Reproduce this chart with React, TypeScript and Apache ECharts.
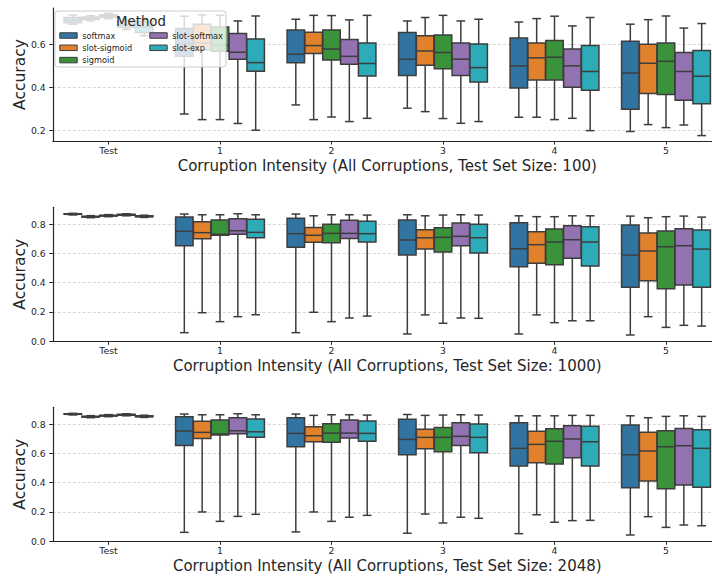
import { useEffect, useRef } from 'react';
import * as echarts from 'echarts';

const categories = ['Test', '1', '2', '3', '4', '5'];
const methods = ['softmax', 'slot-sigmoid', 'sigmoid', 'slot-softmax', 'slot-exp'];
const testSizes = ['100', '1000', '2048'];
const ticksTop = [0.2, 0.4, 0.6];
const ticksLower = [0, 0.2, 0.4, 0.6, 0.8];

// each box: [min, q1, median, q3, max] for Test, 1, 2, 3, 4, 5
const size100Softmax = [[0.693, 0.700, 0.712, 0.724, 0.735], [0.277, 0.544, 0.603, 0.673, 0.730], [0.319, 0.515, 0.554, 0.666, 0.716], [0.304, 0.455, 0.531, 0.654, 0.708], [0.262, 0.398, 0.500, 0.629, 0.703], [0.196, 0.299, 0.467, 0.614, 0.693]];
const size100SlotSigmoid = [[0.708, 0.715, 0.720, 0.726, 0.732], [0.251, 0.575, 0.606, 0.693, 0.736], [0.251, 0.557, 0.594, 0.656, 0.734], [0.288, 0.503, 0.569, 0.640, 0.724], [0.262, 0.435, 0.537, 0.606, 0.719], [0.228, 0.372, 0.512, 0.600, 0.714]];
const size100Sigmoid = [[0.718, 0.725, 0.732, 0.737, 0.743], [0.251, 0.568, 0.595, 0.680, 0.734], [0.263, 0.527, 0.578, 0.666, 0.733], [0.256, 0.487, 0.562, 0.643, 0.734], [0.251, 0.435, 0.540, 0.617, 0.730], [0.214, 0.367, 0.521, 0.606, 0.731]];
const size100SlotSoftmax = [[0.668, 0.678, 0.690, 0.708, 0.716], [0.233, 0.531, 0.563, 0.650, 0.708], [0.242, 0.507, 0.544, 0.622, 0.713], [0.234, 0.455, 0.531, 0.606, 0.708], [0.257, 0.401, 0.500, 0.578, 0.685], [0.226, 0.341, 0.474, 0.562, 0.675]];
const size100SlotExp = [[0.640, 0.654, 0.680, 0.706, 0.716], [0.202, 0.475, 0.515, 0.625, 0.731], [0.257, 0.453, 0.511, 0.606, 0.734], [0.242, 0.425, 0.492, 0.601, 0.716], [0.200, 0.387, 0.474, 0.594, 0.724], [0.177, 0.324, 0.452, 0.571, 0.696]];

const size1000Softmax = [[0.862, 0.866, 0.868, 0.870, 0.873], [0.059, 0.652, 0.750, 0.848, 0.868], [0.059, 0.641, 0.734, 0.839, 0.868], [0.050, 0.588, 0.691, 0.827, 0.863], [0.050, 0.509, 0.631, 0.809, 0.856], [0.043, 0.368, 0.588, 0.793, 0.854]];
const size1000SlotSigmoid = [[0.843, 0.847, 0.850, 0.853, 0.857], [0.195, 0.700, 0.741, 0.816, 0.863], [0.198, 0.675, 0.723, 0.777, 0.856], [0.180, 0.629, 0.706, 0.761, 0.856], [0.180, 0.532, 0.659, 0.747, 0.850], [0.168, 0.413, 0.616, 0.738, 0.843]];
const size1000Sigmoid = [[0.850, 0.854, 0.857, 0.860, 0.864], [0.134, 0.723, 0.730, 0.827, 0.863], [0.134, 0.672, 0.736, 0.798, 0.863], [0.123, 0.609, 0.709, 0.775, 0.861], [0.127, 0.522, 0.677, 0.766, 0.850], [0.095, 0.359, 0.645, 0.752, 0.850]];
const size1000SlotSoftmax = [[0.856, 0.860, 0.863, 0.866, 0.870], [0.168, 0.730, 0.754, 0.836, 0.870], [0.159, 0.702, 0.736, 0.825, 0.863], [0.159, 0.652, 0.716, 0.807, 0.863], [0.140, 0.566, 0.693, 0.788, 0.856], [0.109, 0.384, 0.652, 0.768, 0.854]];
const size1000SlotExp = [[0.845, 0.849, 0.852, 0.856, 0.860], [0.181, 0.706, 0.743, 0.832, 0.863], [0.172, 0.677, 0.734, 0.818, 0.861], [0.157, 0.602, 0.706, 0.798, 0.861], [0.140, 0.513, 0.677, 0.781, 0.856], [0.104, 0.368, 0.629, 0.759, 0.847]];

const size2048Softmax = [[0.862, 0.866, 0.868, 0.870, 0.873], [0.061, 0.654, 0.752, 0.850, 0.868], [0.064, 0.645, 0.736, 0.843, 0.868], [0.055, 0.590, 0.695, 0.832, 0.865], [0.052, 0.513, 0.634, 0.809, 0.856], [0.043, 0.366, 0.590, 0.793, 0.856]];
const size2048SlotSigmoid = [[0.843, 0.847, 0.850, 0.853, 0.857], [0.200, 0.702, 0.743, 0.818, 0.863], [0.200, 0.679, 0.720, 0.781, 0.859], [0.186, 0.632, 0.709, 0.764, 0.859], [0.181, 0.536, 0.661, 0.750, 0.856], [0.168, 0.411, 0.616, 0.743, 0.843]];
const size2048Sigmoid = [[0.850, 0.854, 0.857, 0.860, 0.864], [0.136, 0.725, 0.732, 0.827, 0.863], [0.136, 0.675, 0.738, 0.802, 0.863], [0.125, 0.611, 0.709, 0.777, 0.861], [0.130, 0.527, 0.682, 0.768, 0.856], [0.095, 0.359, 0.645, 0.754, 0.852]];
const size2048SlotSoftmax = [[0.856, 0.860, 0.863, 0.866, 0.870], [0.170, 0.733, 0.754, 0.843, 0.870], [0.164, 0.704, 0.738, 0.827, 0.863], [0.164, 0.654, 0.716, 0.809, 0.863], [0.141, 0.570, 0.698, 0.788, 0.859], [0.111, 0.384, 0.652, 0.770, 0.856]];
const size2048SlotExp = [[0.845, 0.849, 0.852, 0.856, 0.860], [0.184, 0.709, 0.747, 0.834, 0.863], [0.177, 0.682, 0.736, 0.820, 0.861], [0.157, 0.604, 0.709, 0.800, 0.861], [0.143, 0.513, 0.679, 0.784, 0.859], [0.106, 0.368, 0.634, 0.761, 0.852]];

const panels = [
  [size100Softmax, size100SlotSigmoid, size100Sigmoid, size100SlotSoftmax, size100SlotExp],
  [size1000Softmax, size1000SlotSigmoid, size1000Sigmoid, size1000SlotSoftmax, size1000SlotExp],
  [size2048Softmax, size2048SlotSigmoid, size2048Sigmoid, size2048SlotSoftmax, size2048SlotExp],
];

const palette = ['#3274a1', '#e1812c', '#3a923a', '#9372b2', '#2eabb8'];
const EDGE = '#3d3d3d';
const INK = '#262626';
const FONT = 'DejaVu Sans';

const gridBoxes = [
  { top: 8, height: 133 },
  { top: 207.3, height: 134 },
  { top: 407.3, height: 134 },
];
const yRanges = [
  [0.152, 0.768],
  [0, 0.914],
  [0, 0.914],
];

function makeRenderItem(mi: number) {
  return (params: any, api: any) => {
    const cat = api.value(0);
    const band = api.size([1, 0])[0];
    const step = (band * 0.8) / methods.length;
    const w = step * 0.98;
    const cx = api.coord([cat, 0])[0] + (mi - (methods.length - 1) / 2) * step;
    const y = (i: number) => api.coord([cat, api.value(i)])[1];
    const yMin = y(1), yQ1 = y(2), yMed = y(3), yQ3 = y(4), yMax = y(5);
    const lineStyle = { stroke: EDGE, lineWidth: 1.5 };
    return {
      type: 'group',
      children: [
        { type: 'line', shape: { x1: cx, y1: yQ1, x2: cx, y2: yMin }, style: lineStyle },
        { type: 'line', shape: { x1: cx, y1: yQ3, x2: cx, y2: yMax }, style: lineStyle },
        { type: 'line', shape: { x1: cx - w / 4, y1: yMin, x2: cx + w / 4, y2: yMin }, style: lineStyle },
        { type: 'line', shape: { x1: cx - w / 4, y1: yMax, x2: cx + w / 4, y2: yMax }, style: lineStyle },
        {
          type: 'rect',
          shape: { x: cx - w / 2, y: yQ3, width: w, height: yQ1 - yQ3 },
          style: { fill: palette[mi], stroke: EDGE, lineWidth: 1.5 },
        },
        { type: 'line', shape: { x1: cx - w / 2, y1: yMed, x2: cx + w / 2, y2: yMed }, style: lineStyle },
      ],
    };
  };
}

export default function App() {
  const ref = useRef<HTMLDivElement>(null);
  useEffect(() => {
    document.body.style.margin = '0';
    if (!ref.current) return;
    const chart = echarts.init(ref.current, null, { renderer: 'svg' });

    const grid = gridBoxes.map((g) => ({ left: 52.75, width: 669, top: g.top, height: g.height, outerBoundsMode: 'none' }));

    const xAxis = testSizes.map((size, i) => ({
      type: 'category',
      gridIndex: i,
      data: categories,
      boundaryGap: true,
      axisLine: { show: true, lineStyle: { color: INK, width: 1.2 } },
      axisTick: { show: true, alignWithLabel: true, length: 3.5, lineStyle: { color: INK, width: 1 } },
      axisLabel: { interval: 0, color: INK, fontSize: 9.3, margin: 5, fontFamily: FONT },
      splitLine: { show: false },
      name: `Corruption Intensity (All Corruptions, Test Set Size: ${size})`,
      nameLocation: 'middle',
      nameGap: 17,
      nameMoveOverlap: false,
      nameTextStyle: { fontSize: 15, color: INK, fontFamily: FONT },
    }));

    const yAxis = testSizes.map((_, i) => {
      const ticks = i === 0 ? ticksTop : ticksLower;
      return {
        type: 'value',
        gridIndex: i,
        min: yRanges[i][0],
        max: yRanges[i][1],
        axisLine: { show: true, lineStyle: { color: INK, width: 1.2 } },
        axisTick: { show: true, length: 3.5, customValues: ticks, lineStyle: { color: INK, width: 1 } },
        axisLabel: {
          customValues: ticks,
          formatter: (v: number) => v.toFixed(1),
          color: INK,
          fontSize: 9.3,
          margin: 7,
          fontFamily: FONT,
        },
        splitLine: { show: true, lineStyle: { color: '#cccccc', width: 0.8, type: [3, 2] } },
        name: 'Accuracy',
        nameLocation: 'middle',
        nameGap: 25,
        nameMoveOverlap: false,
        nameTextStyle: { fontSize: 15.5, color: INK, fontFamily: FONT },
      };
    });

    const series: any[] = [];
    panels.forEach((arrays, gi) => {
      arrays.forEach((arr, mi) => {
        series.push({
          type: 'custom',
          name: methods[mi],
          coordinateSystem: 'cartesian2d',
          xAxisIndex: gi,
          yAxisIndex: gi,
          itemStyle: { color: palette[mi] },
          encode: { x: 0, y: [1, 2, 3, 4, 5] },
          data: arr.map((b, ci) => [ci, ...b]),
          renderItem: makeRenderItem(mi),
          z: 2,
        });
      });
    });

    const legendCommon = {
      orient: 'vertical',
      top: 30.5,
      padding: 0,
      itemWidth: 17.4,
      itemHeight: 5.5,
      itemGap: 2.3,
      icon: 'rect',
      selectedMode: false,
      itemStyle: { borderColor: EDGE, borderWidth: 1 },
      textStyle: { fontSize: 8.2, color: INK, fontFamily: FONT, lineHeight: 10 },
      z: 4,
    };

    chart.setOption({
      animation: false,
      textStyle: { fontFamily: FONT },
      grid,
      xAxis,
      yAxis,
      series,
      legend: [
        { ...legendCommon, left: 59.3, data: methods.slice(0, 3) },
        { ...legendCommon, left: 149.3, data: methods.slice(3) },
      ],
      graphic: {
        elements: [
          {
            type: 'rect',
            z: 3,
            shape: { x: 55, y: 11, width: 171, height: 56, r: 3 },
            style: { fill: 'rgba(255,255,255,0.8)', stroke: '#cccccc', lineWidth: 1 },
          },
          {
            type: 'text',
            z: 5,
            x: 141,
            y: 21.5,
            style: {
              text: 'Method',
              fontSize: 13.3,
              fontFamily: FONT,
              fill: INK,
              align: 'center',
              verticalAlign: 'middle',
              textAlign: 'center',
              textVerticalAlign: 'middle',
            },
          },
        ],
      },
    });
    return () => chart.dispose();
  }, []);
  return <div ref={ref} style={{ width: 712, height: 578 }} />;
}
